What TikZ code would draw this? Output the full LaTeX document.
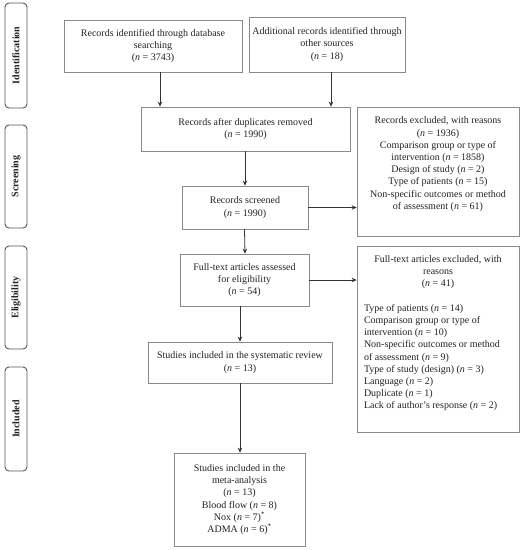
\documentclass[tikz,border=0pt]{standalone}
\usepackage{fontspec}
\setmainfont{Liberation Serif}
\usetikzlibrary{arrows.meta}
\definecolor{boxline}{HTML}{8A8A8A}
\definecolor{arrline}{HTML}{333333}
\definecolor{txt}{HTML}{222222}
\definecolor{sideline}{HTML}{555555}
\begin{document}
\begin{tikzpicture}[x=1pt,y=-1pt,
  every node/.style={text=txt},
  box/.style={draw=boxline, line width=0.7pt, inner sep=0pt, align=center,
    font=\fontsize{10}{12.2}\selectfont},
  side/.style={draw=sideline, line width=0.9pt, rounded corners=4pt, rotate=90,
    inner sep=0pt, minimum height=22pt, font=\fontsize{10}{12}\selectfont\bfseries},
  arr/.style={draw=arrline, line width=0.8pt, -{Stealth[length=5pt,width=4.5pt]}}]
\useasboundingbox (0,0) rectangle (528,550);

% side labels
\node[side, minimum width=105pt] (s1) at (16,55.5) {Identification};
\node[side, minimum width=103pt] (s2) at (16,176.5) {Screening};
\node[side, minimum width=103pt] (s3) at (16,297.5) {Eligibility};
\node[side, minimum width=104pt] (s4) at (16,419) {Included};

% boxes
\node[box, minimum width=178pt, minimum height=52pt] (b1) at (153,46)
  {Records identified through database\\searching\\(\textit{n} = 3743)};
\node[box, minimum width=156pt, minimum height=55pt] (b2) at (327,44.5)
  {Additional records identified through\\other sources\\(\textit{n} = 18)};
\node[box, minimum width=209pt, minimum height=44pt] (b3) at (245.5,129)
  {Records after duplicates removed\\(\textit{n} = 1990)};
\node[box, minimum width=162pt, minimum height=129pt] (b4) at (438,171.5)
  {\parbox[c][109pt][t]{150pt}{\centering
   Records excluded, with reasons\\(\textit{n} = 1936)\\
   Comparison group or type of\\intervention (\textit{n} = 1858)\\
   Design of study (\textit{n} = 2)\\Type of patients (\textit{n} = 15)\\
   Non-specific outcomes or method\\of assessment (\textit{n} = 61)}};
\node[box, minimum width=126pt, minimum height=43pt] (b5) at (245,207.5)
  {Records screened\\(\textit{n} = 1990)};
\node[box, minimum width=129pt, minimum height=52pt] (b6) at (244.5,280)
  {Full-text articles assessed\\for eligibility\\(\textit{n} = 54)};
\node[box, minimum width=162pt, minimum height=186pt] (b7) at (438,339)
  {\parbox[c][167pt][t]{148pt}{%
   {\centering Full-text articles excluded, with\\reasons\\(\textit{n} = 41)\par}
   \vspace{12.2pt}\raggedright
   Type of patients (\textit{n} = 14)\\
   Comparison group or type of\\intervention (\textit{n} = 10)\\
   Non-specific outcomes or method\\of assessment (\textit{n} = 9)\\
   Type of study (design) (\textit{n} = 3)\\
   Language (\textit{n} = 2)\\
   Duplicate (\textit{n} = 1)\\
   Lack of author's response (\textit{n} = 2)}};
\node[box, minimum width=184pt, minimum height=41pt] (b8) at (240,362.5)
  {Studies included in the systematic review\\(\textit{n} = 13)};
\node[box, minimum width=131pt, minimum height=93pt] (b9) at (239.5,499.5)
  {Studies included in the\\meta-analysis\\(\textit{n} = 13)\\
   Blood flow (\textit{n} = 8)\\Nox (\textit{n} = 7)\textsuperscript{*}\\
   ADMA (\textit{n} = 6)\textsuperscript{*}};

% connectors
\draw[arr] ([xshift=7]b1.south) -- ([xshift=7]b1.south |- b3.north);
\draw[arr] ([xshift=4]b2.south) -- ([xshift=4]b2.south |- b3.north);
\draw[arr] (b5.north |- b3.south) -- (b5.north);
\draw[arr] (b5.east) -- (b5.east -| b4.west);
\draw[arr] (b6.north |- b5.south) -- (b6.north -| b5.south);
\draw[arr] (b6.east) -- (b6.east -| b7.west);
\draw[arr] (b8.north |- b6.south) -- (b8.north);
\draw[arr] (b8.south) -- (b8.south |- b9.north);
\end{tikzpicture}
\end{document}
